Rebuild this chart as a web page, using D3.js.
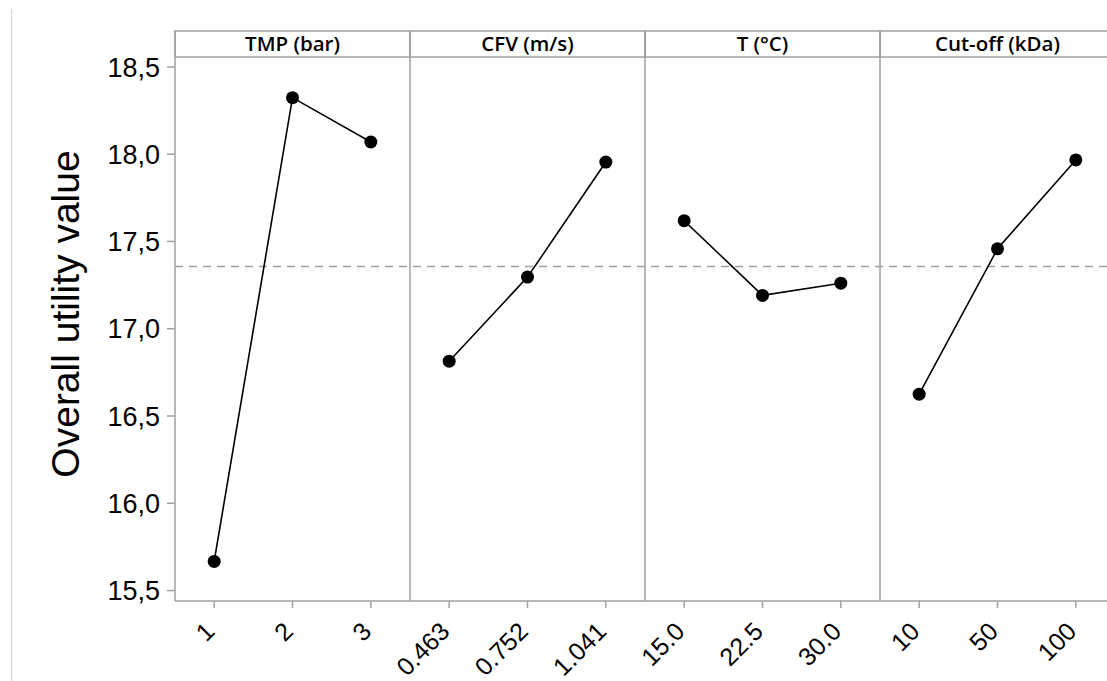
<!DOCTYPE html>
<html>
<head>
<meta charset="utf-8">
<script src="https://cdn.jsdelivr.net/npm/d3@7"></script>
<style>
  body { margin: 0; background: #fff; }
  svg { display: block; }
</style>
</head>
<body>
<div id="chart"></div>
<script>
// factors and their levels
const factors = ['TMP (bar)', 'CFV (m/s)', 'T (°C)', 'Cut-off (kDa)']
const levels = [
  ['1', '2', '3'],
  ['0.463', '0.752', '1.041'],
  ['15.0', '22.5', '30.0'],
  ['10', '50', '100']
]
// mean overall utility value for each level
const means = [
  [15.667, 18.324, 18.07],
  [16.814, 17.296, 17.955],
  [17.619, 17.191, 17.261],
  [16.625, 17.458, 17.967]
]
const grandMean = 17.357
const yTicks = [15.5, 16.0, 16.5, 17.0, 17.5, 18.0, 18.5]

const width = 1107
const height = 681
const gray = '#a0a0a0'

const svg = d3.select('#chart')
  .append('svg')
  .attr('width', width)
  .attr('height', height)

// thin frame line on the far left
svg.append('line')
  .attr('x1', 11.5).attr('x2', 11.5)
  .attr('y1', 9).attr('y2', height)
  .attr('stroke', '#d0d0d0')
  .attr('stroke-width', 1)

const plotTop = 31
const stripBottom = 57
const plotBottom = 601
const plotLeft = 175
const panelW = 235

const panel = d3.scaleBand()
  .domain(factors)
  .range([plotLeft, plotLeft + panelW * factors.length])

const y = d3.scaleLinear()
  .domain([15.44, 18.557])
  .range([plotBottom, stripBottom])

const fmt = d3.formatLocale({ decimal: ',', thousands: '.', grouping: [3], currency: ['', ''] }).format('.1f')

// y axis ticks and labels
const yAxis = svg.append('g')
yAxis.selectAll('line')
  .data(yTicks)
  .join('line')
  .attr('x1', plotLeft - 8).attr('x2', plotLeft)
  .attr('y1', d => y(d)).attr('y2', d => y(d))
  .attr('stroke', gray)
  .attr('stroke-width', 1.5)
yAxis.selectAll('text')
  .data(yTicks)
  .join('text')
  .attr('x', plotLeft - 15)
  .attr('y', d => y(d))
  .attr('dy', '0.36em')
  .attr('text-anchor', 'end')
  .style('font-family', '"Liberation Sans", Arial, sans-serif')
  .style('font-size', '27px')
  .text(d => fmt(d))

svg.append('text')
  .attr('transform', `translate(79,314) rotate(-90)`)
  .attr('text-anchor', 'middle')
  .style('font-family', '"Liberation Sans", Arial, sans-serif')
  .style('font-size', '39px')
  .text('Overall utility value')

// grand mean reference line
svg.append('line')
  .attr('x1', plotLeft).attr('x2', width)
  .attr('y1', y(grandMean)).attr('y2', y(grandMean))
  .attr('stroke', gray)
  .attr('stroke-width', 1.5)
  .attr('stroke-dasharray', '8,6')

factors.forEach((f, i) => {
  const x0 = panel(f)
  const x = d3.scalePoint()
    .domain(levels[i])
    .range([x0, x0 + panel.bandwidth()])
    .padding(0.5)

  const g = svg.append('g')

  // strip header
  g.append('rect')
    .attr('x', x0).attr('y', plotTop)
    .attr('width', panel.bandwidth()).attr('height', stripBottom - plotTop)
    .attr('fill', 'none')
    .attr('stroke', gray)
    .attr('stroke-width', 1.5)
  g.append('text')
    .attr('x', x0 + panel.bandwidth() / 2)
    .attr('y', (plotTop + stripBottom) / 2)
    .attr('dy', '0.36em')
    .attr('text-anchor', 'middle')
    .style('font-family', '"Open Sans", sans-serif')
    .style('font-weight', 600)
    .style('font-size', '20.5px')
    .text(f)

  // panel left border
  g.append('line')
    .attr('x1', x0).attr('x2', x0)
    .attr('y1', plotTop).attr('y2', plotBottom)
    .attr('stroke', gray)
    .attr('stroke-width', 1.5)

  // bottom axis
  g.append('line')
    .attr('x1', x0).attr('x2', x0 + panel.bandwidth())
    .attr('y1', plotBottom).attr('y2', plotBottom)
    .attr('stroke', gray)
    .attr('stroke-width', 1.5)
  g.selectAll('.tick')
    .data(levels[i])
    .join('line')
    .attr('class', 'tick')
    .attr('x1', d => x(d)).attr('x2', d => x(d))
    .attr('y1', plotBottom).attr('y2', plotBottom + 7)
    .attr('stroke', gray)
    .attr('stroke-width', 1.5)
  g.selectAll('.tl')
    .data(levels[i])
    .join('text')
    .attr('class', 'tl')
    .attr('transform', d => `translate(${x(d) + 2},${plotBottom + 32}) rotate(-45)`)
    .attr('text-anchor', 'end')
    .style('font-family', '"Liberation Sans", Arial, sans-serif')
    .style('font-size', '25px')
    .text(d => d)

  // main effect line and points
  const pts = levels[i].map((l, j) => [x(l), y(means[i][j])])
  g.append('path')
    .attr('d', d3.line()(pts))
    .attr('fill', 'none')
    .attr('stroke', '#000')
    .attr('stroke-width', 1.6)
  g.selectAll('circle')
    .data(pts)
    .join('circle')
    .attr('cx', d => d[0])
    .attr('cy', d => d[1])
    .attr('r', 6.5)
    .attr('fill', '#000')
})
</script>
</body>
</html>
